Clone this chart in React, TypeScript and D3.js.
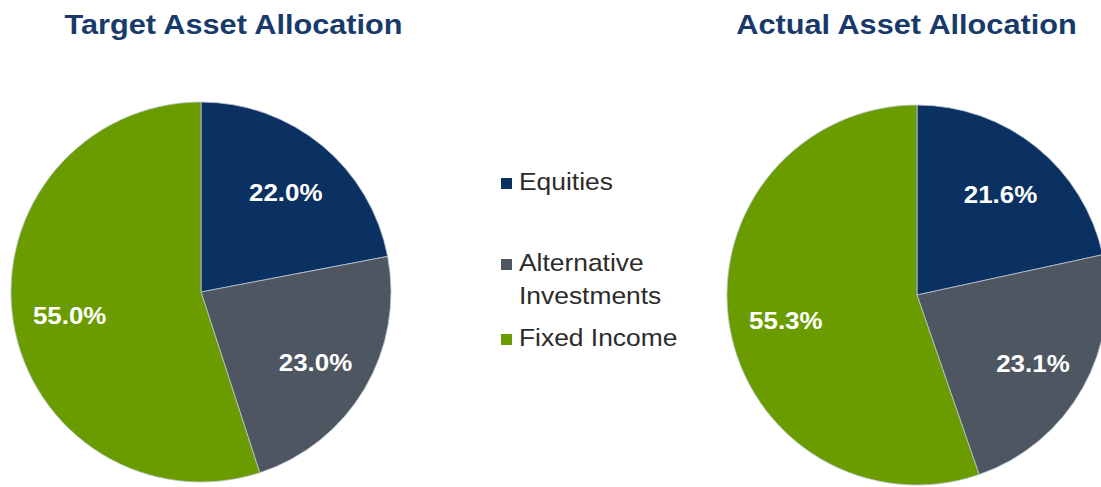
import React from 'react';
import * as d3 from 'd3';

// allocation data
const categories = ['Equities', 'Alternative Investments', 'Fixed Income'];
const legendLines = [['Equities'], ['Alternative', 'Investments'], ['Fixed Income']];
const targetValues = [22.0, 23.0, 55.0];
const actualValues = [21.6, 23.1, 55.3];
const titles = ['Target Asset Allocation', 'Actual Asset Allocation'];

const colors = ['#0b3162', '#4e5761', '#6a9c00'];
const width = 1101;
const height = 487;
const radius = 190;

type PieProps = { cx: number; cy: number; values: number[] };

function Pie({ cx, cy, values }: PieProps) {
  const pie = d3.pie<number>().sort(null).value(d => d);
  const arcs = pie(values);
  const arc = d3.arc<d3.PieArcDatum<number>>().innerRadius(0).outerRadius(radius);
  const labelArc = d3.arc<d3.PieArcDatum<number>>()
    .innerRadius(radius * 0.7)
    .outerRadius(radius * 0.7);

  return (
    <g transform={`translate(${cx},${cy})`}>
      {arcs.map((a, i) => (
        <path key={categories[i]} d={arc(a) || ''} fill={colors[i]}
          stroke="#b9c4d2" strokeWidth={0.8} />
      ))}
      {arcs.map((a, i) => {
        const [x, y] = labelArc.centroid(a);
        return (
          <g key={'l' + i} transform={`translate(${x},${y + 3}) scale(1.08,1)`}>
            <text dy="0.36em" textAnchor="middle"
              fontFamily="'Liberation Sans', Arial, sans-serif" fontWeight="bold"
              fontSize={24} fill="#ffffff">
              {d3.format('.1f')(a.data) + '%'}
            </text>
          </g>
        );
      })}
    </g>
  );
}

export default function App() {
  const titleX = [233.5, 906.5];
  const legendY = d3.scalePoint<string>().domain(categories).range([190, 346]);
  const lineStep = 33;

  return (
    <svg width={width} height={height}
      style={{ position: 'absolute', left: 0, top: 0, background: '#ffffff' }}>
      {titles.map((t, i) => (
        <g key={t} transform={`translate(${titleX[i]},34) scale(1.137,1)`}>
          <text textAnchor="middle" fontFamily="'Liberation Sans', Arial, sans-serif"
            fontWeight="bold" fontSize={27} fill="#173a6b">{t}</text>
        </g>
      ))}

      <Pie cx={201} cy={292} values={targetValues} />
      <Pie cx={917} cy={295} values={actualValues} />

      {categories.map((c, i) => {
        const lines = legendLines[i];
        // the two-line entry is lifted so its last line sits above Fixed Income
        const y0 = i === 1 ? 271 : (legendY(c) as number);
        return (
          <g key={c}>
            <rect x={501} y={y0 - 12} width={11} height={11} fill={colors[i]} />
            {lines.map((ln, j) => (
              <g key={ln} transform={`translate(519,${y0 + j * lineStep}) scale(1.1,1)`}>
                <text fontFamily="'Liberation Sans', Arial, sans-serif" fontSize={24}
                  fill="#2b2b2b">{ln}</text>
              </g>
            ))}
          </g>
        );
      })}
    </svg>
  );
}
